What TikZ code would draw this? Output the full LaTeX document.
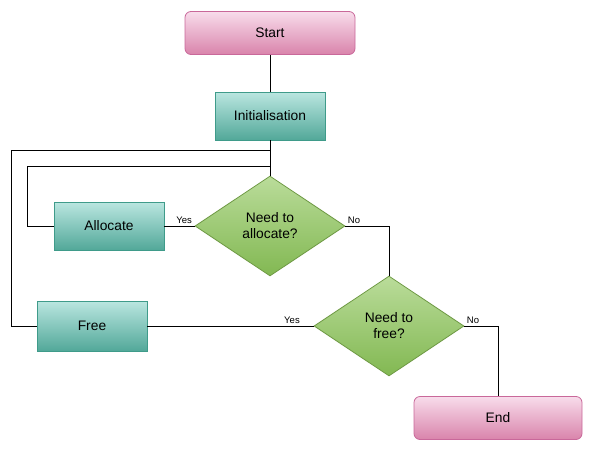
\documentclass[tikz,border=0pt]{standalone}
\usepackage{fontspec}
\setmainfont{Liberation Sans}
\usepackage{xcolor}
\usepackage{tikz}
\usetikzlibrary{shapes.geometric, positioning}
\definecolor{pinktop}{HTML}{F8DCEB}
\definecolor{pinkbot}{HTML}{D984AB}
\definecolor{pinkline}{HTML}{C9689A}
\definecolor{tealtop}{HTML}{BAE6E0}
\definecolor{tealbot}{HTML}{52A899}
\definecolor{tealline}{HTML}{3F9B8A}
\definecolor{greentop}{HTML}{BADC9A}
\definecolor{greenbot}{HTML}{82B852}
\definecolor{greenline}{HTML}{6F9A45}
\tikzset{
    terminal/.style={rectangle, rounded corners=6pt, minimum width=170pt, minimum height=43pt, text centered, draw=pinkline, line width=0.8pt, top color=pinktop, bottom color=pinkbot, font=\fontsize{13.8}{16}\selectfont},
    process/.style={rectangle, minimum width=110pt, minimum height=48pt, text centered, draw=tealline, line width=0.8pt, top color=tealtop, bottom color=tealbot, font=\fontsize{13.8}{16}\selectfont},
    decision/.style={diamond, minimum width=150pt, minimum height=100pt, inner sep=0pt, align=center, draw=greenline, line width=0.8pt, top color=greentop, bottom color=greenbot, font=\fontsize{13.8}{16}\selectfont},
    line/.style={line width=1pt, black},
    answer/.style={font=\fontsize{9.5}{11}\selectfont, inner sep=2pt}
}
\begin{document}
\begin{tikzpicture}[x=1pt, y=-1pt]
    \useasboundingbox (0,0) rectangle (594,453);
    \node (start) [terminal] at (270,33) {Start};
    \node (init) [process, node distance=83pt, below of=start] {Initialisation};
    \node (decalloc) [decision, node distance=110pt, below of=init] {Need to\\allocate?};
    \node (alloc) [process, node distance=161pt, left of=decalloc] {Allocate};
    \node (decfree) [decision, node distance=100pt, below of=decalloc, xshift=119pt] {Need to\\free?};
    \node (free) [process, minimum height=50pt, node distance=297pt, left of=decfree] {Free};
    \node (stop) [terminal, minimum width=168pt, node distance=92pt, below of=decfree, xshift=109pt] {End};

    \coordinate (j1) at ([yshift=-10pt]init.south);
    \coordinate (j2) at ([yshift=-26pt]init.south);

    \draw [line] (start) -- (init);
    \draw [line] (init) -- (decalloc);
    \draw [line] (j1) -| ([xshift=-25pt]free.west) -- (free.west);
    \draw [line] (j2) -| ([xshift=-26pt]alloc.west) -- (alloc.west);
    \draw [line] (decalloc.west) -- node [answer, above, pos=0.35] {Yes} (alloc.east);
    \draw [line] (decalloc.east) -| node [answer, above right, pos=0] {No} (decfree.north);
    \draw [line] (decfree.west) -- node [answer, above, pos=0.13] {Yes} (free.east);
    \draw [line] (decfree.east) -| node [answer, above right, pos=0] {No} (stop.north);
\end{tikzpicture}
\end{document}
